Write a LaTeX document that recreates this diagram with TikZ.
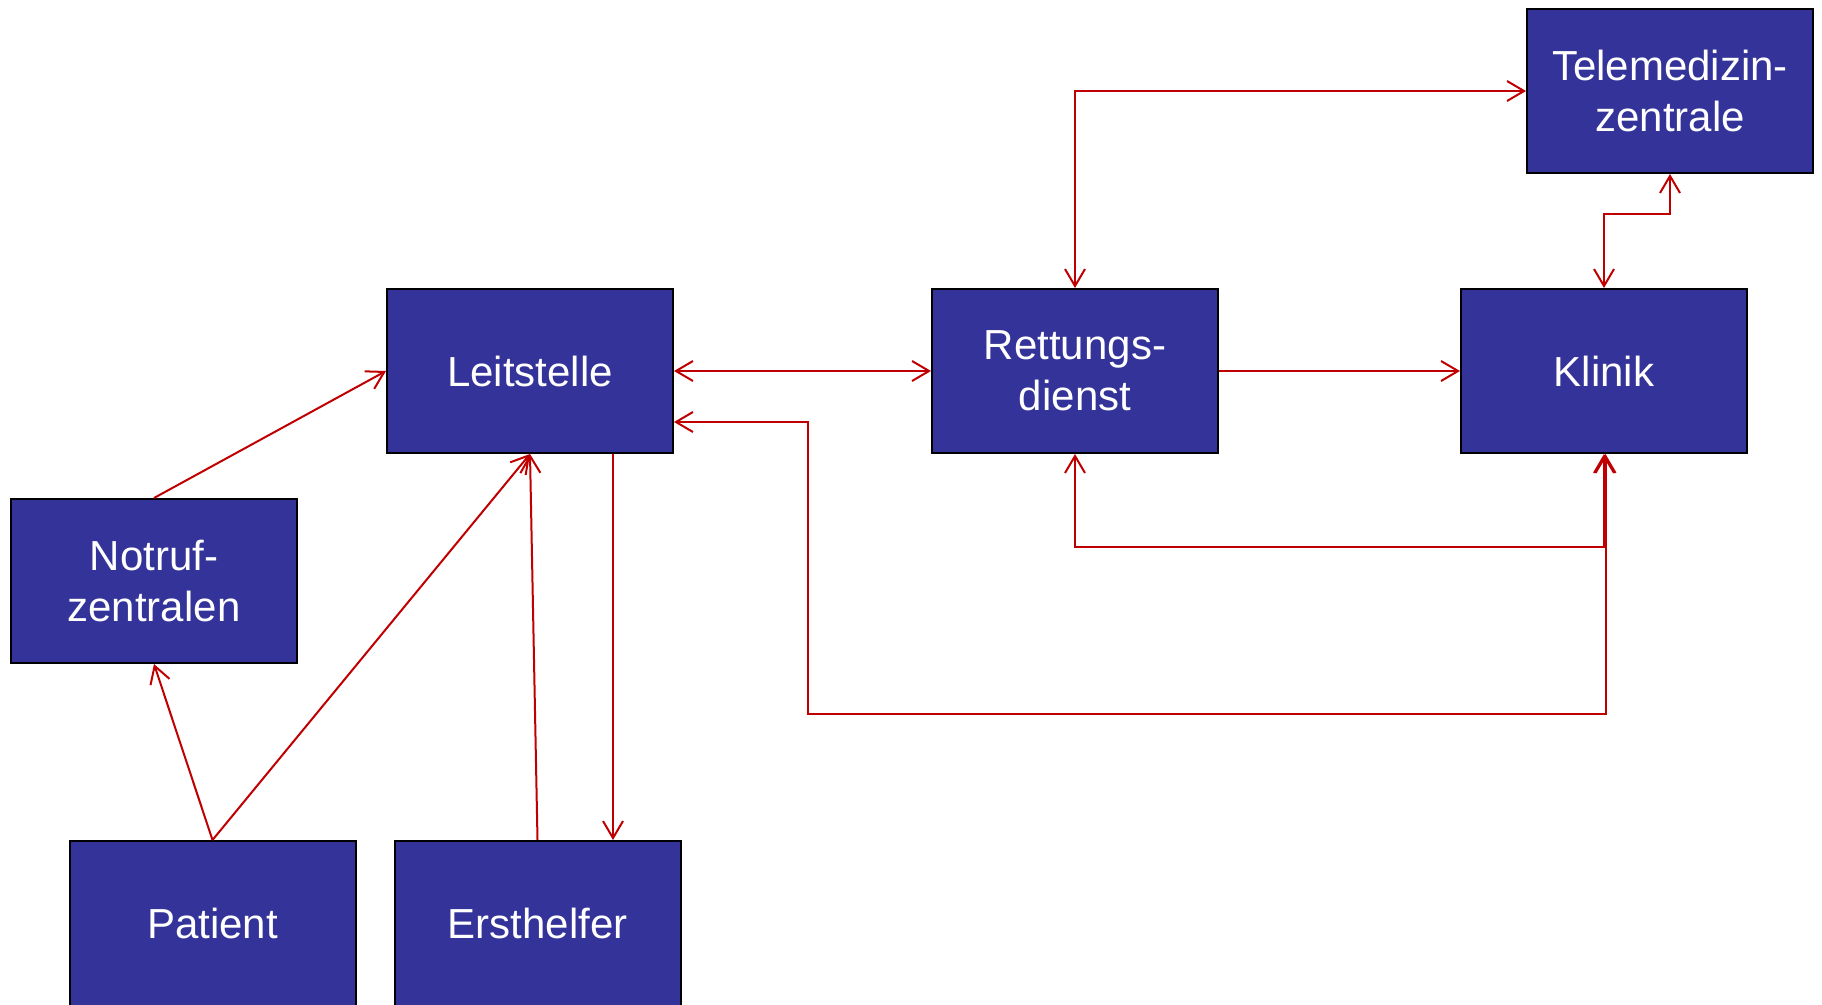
\documentclass[tikz,border=0pt]{standalone}
\usepackage{fontspec}
\setmainfont{Liberation Sans}
\usetikzlibrary{arrows.meta,calc}
\definecolor{boxblue}{RGB}{51,51,153}
\definecolor{linkred}{RGB}{192,0,0}
\begin{document}
\begin{tikzpicture}[x=1pt,y=-1pt,
  unit/.style={draw=black,line width=2pt,fill=boxblue,text=white,
    minimum width=286pt,minimum height=164pt,inner sep=0pt,align=center,
    font=\fontsize{42}{51}\selectfont},
  cutunit/.style={unit,minimum height=204pt,anchor=north,
    label={[text=white,font=\fontsize{42}{51}\selectfont,yshift=20pt]center:#1}},
  link/.style={draw=linkred,line width=2pt,
    arrows={-}, >={Straight Barb[length=17pt,width=20pt]}}]
\clip (0,0) rectangle (1822,1004);
\fill[white] (0,0) rectangle (1822,1004);
\node[unit] (Tele) at (1670,91) {Telemedizin-\\zentrale};
\node[unit] (Leit) at (530,371) {Leitstelle};
\node[unit] (Rett) at (1075,371) {Rettungs-\\dienst};
\node[unit] (Klin) at (1604,371) {Klinik};
\node[unit] (Not) at (154,581) {Notruf-\\zentralen};
\node[cutunit=Patient] (Pat) at (212.5,840) {};
\node[cutunit=Ersthelfer] (Erst) at (537.5,840) {};

\draw[link,<->] (Leit.east) -- (Rett.west);
\draw[link,->] (Rett.east) -- (Klin.west);
\draw[link,<->] (Rett.north) |- (Tele.west);
\draw[link,<->] (Tele.south) -- ++(0,40) -| (Klin.north);
\draw[link,<->] (Rett.south) -- ++(0,93) -| (Klin.south);
\draw[link,<->] ([yshift=-51pt]Leit.east) -- ++(134,0) -- ++(0,292) -| ([xshift=1.5pt]Klin.south);
\draw[link,->] (Not.north) -- (Leit.west);
\draw[link,->] (Pat.north) -- (Not.south);
\draw[link,->] (Pat.north) -- (Leit.south);
\draw[link,->] (Erst.north) -- (Leit.south);
\draw[link,->] ([xshift=83pt]Leit.south) -- ([xshift=75.5pt]Erst.north);
\end{tikzpicture}
\end{document}
